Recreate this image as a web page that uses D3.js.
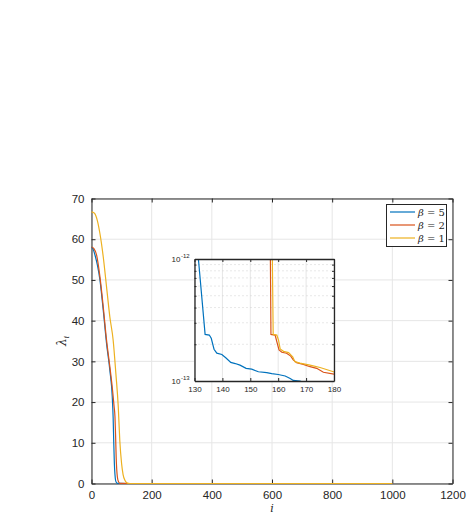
<!DOCTYPE html>
<html>
<head>
<meta charset="utf-8">
<script src="https://d3js.org/d3.v7.min.js"></script>
<style>
  body { margin: 0; background: #fff; }
  text { font-family: "Liberation Sans", Arial, sans-serif; fill: #262626; }
  .lab { font-family: "DejaVu Serif", "Liberation Serif", serif; font-style: italic; }
</style>
</head>
<body>
<div id="chart"></div>
<script>
// main curves: sampled index i and eigenvalue lambda_i
var iB5 = [0, 5, 12, 20, 28, 39, 50, 61, 69, 72, 74, 76, 78, 80, 83, 86, 95, 120, 400, 1000];
var vB5 = [58, 57.6, 56, 53.5, 50, 42.6, 34.4, 27.8, 21.3, 16, 10, 4.9, 2.2, 0.8, 0.2, 0.05, 0.01, 0, 0, 0];
var iB2 = [0, 8, 17, 28, 39, 50, 61, 70, 75, 78, 80, 82, 86, 90, 94, 105, 130, 400, 1000];
var vB2 = [58.1, 57.7, 56.1, 50.8, 43.4, 35.2, 28.7, 22.9, 19, 16.4, 12, 6.5, 1.6, 0.4, 0.05, 0.01, 0, 0, 0];
var iB1 = [0, 5, 11, 19, 28, 39, 50, 61, 72, 81, 89, 94, 100, 105, 111, 117, 122, 135, 400, 1000];
var vB1 = [66.7, 66.6, 66.3, 64.7, 61.4, 55.7, 48.3, 40.9, 35.2, 27, 18.8, 10.6, 4.9, 2.2, 0.8, 0.2, 0.05, 0, 0, 0];

// inset (zoom of the tail, log scale)
var jB5 = [131.4, 133.8, 135.3, 136, 137, 138, 139.8, 141.2, 143, 144.6, 146.3, 148.5, 150.5, 152.9, 155.9, 157.7, 160, 162.5, 164.3, 165.4, 167.8, 170];
var wB5 = [1e-12, 2.41e-13, 2.38e-13, 2.24e-13, 1.82e-13, 1.69e-13, 1.65e-13, 1.55e-13, 1.42e-13, 1.39e-13, 1.35e-13, 1.27e-13, 1.25e-13, 1.19e-13, 1.17e-13, 1.15e-13, 1.13e-13, 1.1e-13, 1.05e-13, 1.01e-13, 1e-13, 0.95e-13];
var jB2 = [157.2, 157.4, 158.9, 159.5, 160.3, 161.3, 163, 164.5, 165.4, 166.6, 169, 171.4, 173.8, 176.2, 180];
var wB2 = [1e-12, 2.41e-13, 2.38e-13, 2.1e-13, 1.8e-13, 1.72e-13, 1.69e-13, 1.6e-13, 1.49e-13, 1.41e-13, 1.37e-13, 1.31e-13, 1.27e-13, 1.18e-13, 1.14e-13];
var jB1 = [157.9, 158.2, 159.5, 160.1, 160.7, 161.9, 163.7, 165.2, 166, 167.8, 171.4, 175, 179.8, 180];
var wB1 = [1e-12, 2.41e-13, 2.38e-13, 2.17e-13, 1.83e-13, 1.75e-13, 1.71e-13, 1.58e-13, 1.44e-13, 1.4e-13, 1.35e-13, 1.29e-13, 1.19e-13, 1.185e-13];

var betas = ["5", "2", "1"];
var colors = ["#0072BD", "#D95319", "#EDB120"];
var xTicks = [0, 200, 400, 600, 800, 1000, 1200];
var yTicks = [0, 10, 20, 30, 40, 50, 60, 70];
var insetXTicks = [130, 140, 150, 160, 170, 180];

var W = 472, H = 519;
var svg = d3.select("#chart").append("svg").attr("width", W).attr("height", H);

var x = d3.scaleLinear().domain([0, 1200]).range([91.5, 452.5]);
var y = d3.scaleLinear().domain([0, 70]).range([483.5, 198.5]);

// grid
svg.append("g").selectAll("line").data(xTicks).enter().append("line")
  .attr("x1", d => x(d)).attr("x2", d => x(d)).attr("y1", y(0)).attr("y2", y(70))
  .attr("stroke", "#e6e6e6").attr("stroke-width", 1);
svg.append("g").selectAll("line").data(yTicks).enter().append("line")
  .attr("y1", d => y(d)).attr("y2", d => y(d)).attr("x1", x(0)).attr("x2", x(1200))
  .attr("stroke", "#e6e6e6").attr("stroke-width", 1);

// axes
var fmt = d3.format("d");
var gx = svg.append("g").attr("transform", "translate(0," + y(0) + ")")
  .call(d3.axisBottom(x).tickValues(xTicks).tickFormat(fmt).tickSizeInner(-4).tickSizeOuter(0).tickPadding(7));
var gy = svg.append("g").attr("transform", "translate(" + x(0) + ",0)")
  .call(d3.axisLeft(y).tickValues(yTicks).tickFormat(fmt).tickSizeInner(-4).tickSizeOuter(0).tickPadding(7));
var gx2 = svg.append("g").attr("transform", "translate(0," + y(70) + ")")
  .call(d3.axisTop(x).tickValues(xTicks).tickSizeInner(-4).tickSizeOuter(0).tickFormat(""));
var gy2 = svg.append("g").attr("transform", "translate(" + x(1200) + ",0)")
  .call(d3.axisRight(y).tickValues(yTicks).tickSizeInner(-4).tickSizeOuter(0).tickFormat(""));
[gx, gy, gx2, gy2].forEach(function(g) {
  g.selectAll("path").attr("stroke", "#262626").attr("stroke-width", 1);
  g.selectAll("line").attr("stroke", "#262626");
  g.selectAll("text").style("font-size", "11.5px").style("font-family", "Liberation Sans, Arial, sans-serif").attr("fill", "#262626");
});

// main lines
var series = [[iB5, vB5], [iB2, vB2], [iB1, vB1]];
var line = d3.line().x(d => x(d[0])).y(d => y(d[1])).curve(d3.curveMonotoneX);
series.forEach(function(s, k) {
  var pts = s[0].map((d, j) => [d, s[1][j]]);
  svg.append("path").datum(pts).attr("d", line)
    .attr("fill", "none").attr("stroke", colors[k]).attr("stroke-width", 1.2);
});

// axis labels
svg.append("text").attr("class", "lab").attr("x", 272).attr("y", 512)
  .attr("text-anchor", "middle").style("font-size", "11px").text("i");
var yl = svg.append("text").attr("class", "lab")
  .attr("transform", "translate(66," + y(35) + ") rotate(-90)")
  .attr("text-anchor", "middle").style("font-size", "12px");
yl.append("tspan").text("\u03bb");
yl.append("tspan").attr("dy", 3).style("font-size", "8px").text("i");

// legend
var lg = svg.append("g");
lg.append("rect").attr("x", 386.5).attr("y", 204.5).attr("width", 60).attr("height", 42)
  .attr("fill", "#fff").attr("stroke", "#262626").attr("stroke-width", 1);
betas.forEach(function(b, k) {
  var yy = 212 + k * 13;
  lg.append("line").attr("x1", 390).attr("x2", 415).attr("y1", yy).attr("y2", yy)
    .attr("stroke", colors[k]).attr("stroke-width", 1.2);
  var t = lg.append("text").attr("x", 418).attr("y", yy + 3.5)
    .style("font-size", "10px").style("font-family", "DejaVu Serif, serif");
  t.append("tspan").style("font-style", "italic").text("\u03b2");
  t.append("tspan").text(" = " + b);
});

// inset
var ix = d3.scaleLinear().domain([130, 180]).range([194.5, 334]);
var iy = d3.scaleLog().domain([1e-13, 1e-12]).range([381, 259]);
var ins = svg.append("g");
ins.append("rect").attr("x", ix(130)).attr("y", iy(1e-12)).attr("width", ix(180) - ix(130))
  .attr("height", iy(1e-13) - iy(1e-12)).attr("fill", "#fff");
var minor = d3.range(2, 10).map(d => d * 1e-13);
ins.selectAll(".vg").data(insetXTicks).enter().append("line")
  .attr("x1", d => ix(d)).attr("x2", d => ix(d)).attr("y1", iy(1e-13)).attr("y2", iy(1e-12))
  .attr("stroke", "#e6e6e6");
ins.selectAll(".hg").data(minor).enter().append("line")
  .attr("x1", ix(130)).attr("x2", ix(180)).attr("y1", d => iy(d)).attr("y2", d => iy(d))
  .attr("stroke", "#d0d0d0").attr("stroke-dasharray", "1,3");
ins.append("clipPath").attr("id", "ic").append("rect")
  .attr("x", ix(130)).attr("y", iy(1e-12)).attr("width", ix(180) - ix(130))
  .attr("height", iy(1e-13) - iy(1e-12));
var iline = d3.line().x(d => ix(d[0])).y(d => iy(d[1]));
[[jB5, wB5], [jB2, wB2], [jB1, wB1]].forEach(function(s, k) {
  var pts = s[0].map((d, j) => [d, s[1][j]]);
  ins.append("path").datum(pts).attr("d", iline).attr("clip-path", "url(#ic)")
    .attr("fill", "none").attr("stroke", colors[k]).attr("stroke-width", 1.2);
});
var ax = ins.append("g").attr("transform", "translate(0," + iy(1e-13) + ")")
  .call(d3.axisBottom(ix).tickValues(insetXTicks).tickSizeInner(-3).tickSizeOuter(0).tickPadding(5));
var ax2 = ins.append("g").attr("transform", "translate(0," + iy(1e-12) + ")")
  .call(d3.axisTop(ix).tickValues(insetXTicks).tickSizeInner(-3).tickSizeOuter(0).tickFormat(""));
var ay = ins.append("g").attr("transform", "translate(" + ix(130) + ",0)")
  .call(d3.axisLeft(iy).tickValues(minor).tickSizeInner(-2).tickSizeOuter(0).tickFormat(""));
var ay2 = ins.append("g").attr("transform", "translate(" + ix(180) + ",0)")
  .call(d3.axisRight(iy).tickValues(minor).tickSizeInner(-2).tickSizeOuter(0).tickFormat(""));
[ax, ax2, ay, ay2].forEach(function(g) {
  g.selectAll("path").attr("stroke", "#262626").attr("stroke-width", 1.3);
  g.selectAll("line").attr("stroke", "#262626");
  g.selectAll("text").style("font-size", "8px").style("font-family", "Liberation Sans, Arial, sans-serif").attr("fill", "#262626");
});
[1e-12, 1e-13].forEach(function(v) {
  var t = ins.append("text").attr("x", ix(130) - 14).attr("y", iy(v) + 3)
    .attr("text-anchor", "end").style("font-size", "8px").text("10");
  ins.append("text").attr("x", ix(130) - 13.5).attr("y", iy(v) - 1)
    .attr("text-anchor", "start").style("font-size", "6px")
    .text(v === 1e-12 ? "-12" : "-13");
});
</script>
</body>
</html>
